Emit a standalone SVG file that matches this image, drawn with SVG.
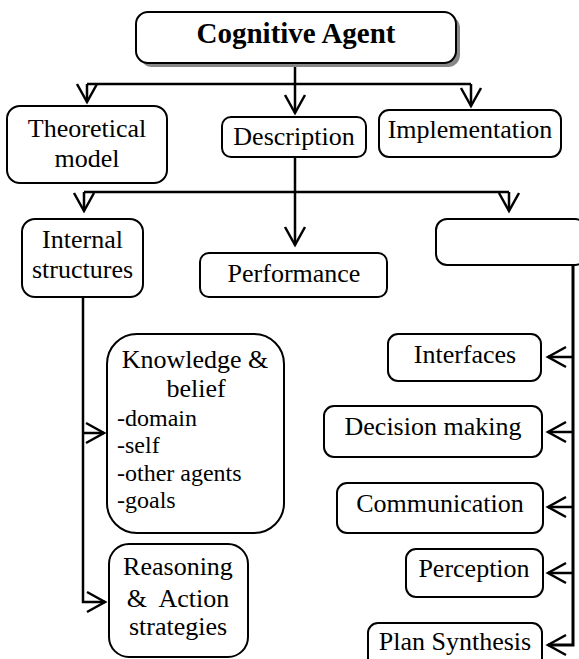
<svg xmlns="http://www.w3.org/2000/svg" width="579" height="659" viewBox="0 0 579 659">
<defs>
<marker id="arr" markerUnits="userSpaceOnUse" markerWidth="24" markerHeight="24" viewBox="-20 -12 24 24" refX="0" refY="0" orient="auto" overflow="visible">
<path d="M-18,-10 L0,0 L-18,10" fill="none" stroke="#000" stroke-width="2.5"/>
</marker>
</defs>
<style>
.box{fill:#fff;stroke:#000;stroke-width:2}
.t{font-family:"Liberation Serif","Times New Roman",serif;font-size:26px;fill:#000;text-anchor:middle}
.s{font-family:"Liberation Serif","Times New Roman",serif;font-size:24px;fill:#000}
.c{fill:none;stroke:#000;stroke-width:2.5}
.a{marker-end:url(#arr)}
</style>
<rect width="579" height="659" fill="#fff"/>
<g id="connectors">
<path class="c" d="M295,63 V84"/>
<path class="c" d="M87,84 H471"/>
<path class="c a" d="M87,84 V102"/>
<path class="c a" d="M295,84 V113"/>
<path class="c a" d="M471,84 V106"/>
<path class="c a" d="M295,157 V245"/>
<path class="c" d="M84,192 H509"/>
<path class="c a" d="M84,192 V211"/>
<path class="c a" d="M509,192 V211"/>
<path class="c a" d="M83,297 V602 H105"/>
<path class="c a" d="M83,433 H104"/>
<path class="c a" d="M573,265 V645 H548" style="stroke-width:3"/>
<path class="c a" d="M573,357 H548"/>
<path class="c a" d="M573,432 H548"/>
<path class="c a" d="M573,507 H548"/>
<path class="c a" d="M573,573 H548"/>
</g>
<g id="cognitive-agent">
<rect x="140" y="16" width="320" height="51" rx="12" fill="#888"/>
<rect class="box" x="136" y="12" width="320" height="51" rx="12"/>
<text class="t" x="296" y="43" style="font-weight:bold;font-size:29px">Cognitive Agent</text>
</g>
<g id="theoretical-model">
<rect class="box" x="7" y="106" width="160" height="77" rx="13"/>
<text class="t" x="87" y="137">Theoretical</text>
<text class="t" x="87" y="167">model</text>
</g>
<g id="description">
<rect class="box" x="222" y="117" width="144" height="40" rx="9"/>
<text class="t" x="294" y="145">Description</text>
</g>
<g id="implementation">
<rect class="box" x="379" y="110" width="182" height="47" rx="10"/>
<text class="t" x="470" y="138">Implementation</text>
</g>
<g id="internal-structures">
<rect class="box" x="22" y="219" width="121" height="78" rx="13"/>
<text class="t" x="82.5" y="248">Internal</text>
<text class="t" x="82.5" y="278">structures</text>
</g>
<g id="performance">
<rect class="box" x="200" y="253" width="187" height="44" rx="9"/>
<text class="t" x="294" y="282">Performance</text>
</g>
<g id="empty-box">
<rect class="box" x="436" y="219" width="150" height="46" rx="11"/>
</g>
<g id="knowledge-belief">
<rect class="box" x="107" y="334" width="177" height="199" rx="30"/>
<text class="t" x="195" y="368">Knowledge &amp;</text>
<text class="t" x="196" y="397">belief</text>
<text class="s" x="117" y="426">-domain</text>
<text class="s" x="117" y="453">-self</text>
<text class="s" x="117" y="481">-other agents</text>
<text class="s" x="117" y="508">-goals</text>
</g>
<g id="reasoning-action">
<rect class="box" x="109" y="544" width="139" height="113" rx="20"/>
<text class="t" x="178" y="575">Reasoning</text>
<text class="t" x="178" y="607" xml:space="preserve" style="white-space:pre">&amp;  Action</text>
<text class="t" x="178" y="635">strategies</text>
</g>
<g id="interfaces">
<rect class="box" x="388" y="334" width="153" height="47" rx="10"/>
<text class="t" x="465" y="363">Interfaces</text>
</g>
<g id="decision-making">
<rect class="box" x="324" y="406" width="218" height="51" rx="10"/>
<text class="t" x="433" y="435">Decision making</text>
</g>
<g id="communication">
<rect class="box" x="337" y="483" width="206" height="50" rx="10"/>
<text class="t" x="440" y="512">Communication</text>
</g>
<g id="perception">
<rect class="box" x="406" y="549" width="137" height="48" rx="10"/>
<text class="t" x="474" y="577">Perception</text>
</g>
<g id="plan-synthesis">
<rect class="box" x="368" y="623" width="174" height="50" rx="10"/>
<text class="t" x="455" y="650">Plan Synthesis</text>
</g>
</svg>
